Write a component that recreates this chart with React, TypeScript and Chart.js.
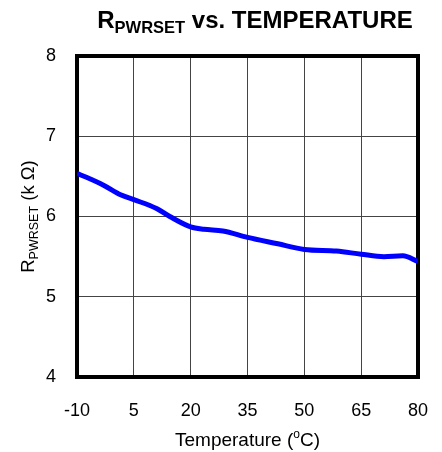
import React, { useEffect, useRef } from "react";
import { Chart, registerables } from "chart.js";

Chart.register(...registerables);

const temperatures = [-10, -3, 1.5, 5, 11, 14.5, 20, 23.5, 28.5, 35, 43, 50, 58.5, 65, 71, 76, 80];
const resistance = [6.54, 6.39, 6.27, 6.21, 6.1, 6.0, 5.87, 5.84, 5.82, 5.74, 5.66, 5.59, 5.57, 5.53, 5.5, 5.51, 5.44];
const xTicks = [-10, 5, 20, 35, 50, 65, 80];
const yTicks = [4, 5, 6, 7, 8];

const FONT = "'Liberation Sans', Arial, sans-serif";

type Seg = { text: string; size: number; bold?: boolean; dy?: number };

function drawRich(ctx: CanvasRenderingContext2D, segs: Seg[], cx: number, y: number) {
  let total = 0;
  for (const s of segs) {
    ctx.font = `${s.bold ? "bold " : ""}${s.size}px ${FONT}`;
    total += ctx.measureText(s.text).width;
  }
  let x = cx - total / 2;
  ctx.textAlign = "left";
  ctx.textBaseline = "alphabetic";
  for (const s of segs) {
    ctx.font = `${s.bold ? "bold " : ""}${s.size}px ${FONT}`;
    ctx.fillText(s.text, x, y + (s.dy || 0));
    x += ctx.measureText(s.text).width;
  }
}

const decorPlugin = {
  id: "decor",
  beforeDatasetsDraw(chart: any) {
    const { ctx, chartArea } = chart;
    ctx.save();
    ctx.strokeStyle = "#000";
    ctx.lineWidth = 4;
    ctx.strokeRect(chartArea.left, chartArea.top, chartArea.right - chartArea.left, chartArea.bottom - chartArea.top);
    ctx.restore();
  },
  afterDraw(chart: any) {
    const { ctx, chartArea } = chart;
    ctx.save();
    ctx.fillStyle = "#000";
    // title
    drawRich(
      ctx,
      [
        { text: "R", size: 24, bold: true },
        { text: "PWRSET", size: 16.5, bold: true, dy: 5 },
        { text: " vs. TEMPERATURE", size: 24, bold: true },
      ],
      255,
      28
    );
    // x label
    const cx = (chartArea.left + chartArea.right) / 2;
    drawRich(
      ctx,
      [
        { text: "Temperature (", size: 19 },
        { text: "o", size: 12, dy: -8 },
        { text: "C)", size: 19 },
      ],
      cx,
      446
    );
    // y label
    const cy = (chartArea.top + chartArea.bottom) / 2;
    ctx.translate(34, cy);
    ctx.rotate(-Math.PI / 2);
    drawRich(
      ctx,
      [
        { text: "R", size: 18.5 },
        { text: "PWRSET", size: 12.5, dy: 4 },
        { text: " (k Ω)", size: 18.5 },
      ],
      0,
      0
    );
    ctx.restore();
  },
};

export default function App() {
  const ref = useRef<HTMLCanvasElement>(null);
  useEffect(() => {
    if (!ref.current) return;
    const chart = new Chart(ref.current, {
      type: "line",
      data: {
        datasets: [
          {
            data: temperatures.map((t, i) => ({ x: t, y: resistance[i] })),
            borderColor: "#0000ff",
            borderWidth: 5,
            pointRadius: 0,
            cubicInterpolationMode: "monotone",
            fill: false,
          },
        ],
      },
      options: {
        animation: false,
        responsive: false,
        layout: { padding: { left: 0, right: 24, top: 56, bottom: 0 } },
        plugins: { legend: { display: false }, tooltip: { enabled: false }, title: { display: false } },
        scales: {
          x: {
            type: "linear",
            min: -10,
            max: 80,
            afterBuildTicks: (s: any) => {
              s.ticks = xTicks.map((v) => ({ value: v }));
            },
            afterFit: (s: any) => {
              s.height = 75;
              s.paddingLeft = 0;
              s.paddingRight = 0;
            },
            grid: { color: "#444", lineWidth: 1, drawTicks: false },
            border: { display: false },
            ticks: { color: "#000", font: { size: 18, family: FONT }, padding: 23, maxRotation: 0 },
          },
          y: {
            type: "linear",
            min: 4,
            max: 8,
            afterBuildTicks: (s: any) => {
              s.ticks = yTicks.map((v) => ({ value: v }));
            },
            afterFit: (s: any) => {
              s.width = 77;
              s.paddingTop = 0;
              s.paddingBottom = 0;
            },
            grid: { color: "#444", lineWidth: 1, drawTicks: false },
            border: { display: false },
            ticks: { color: "#000", font: { size: 18, family: FONT }, padding: 21 },
          },
        },
      },
      plugins: [decorPlugin],
    } as any);
    return () => chart.destroy();
  }, []);
  return (
    <div style={{ position: "fixed", left: 0, top: 0, width: 442, height: 452, background: "#fff" }}>
      <canvas ref={ref} width={442} height={452} style={{ display: "block" }} />
    </div>
  );
}
